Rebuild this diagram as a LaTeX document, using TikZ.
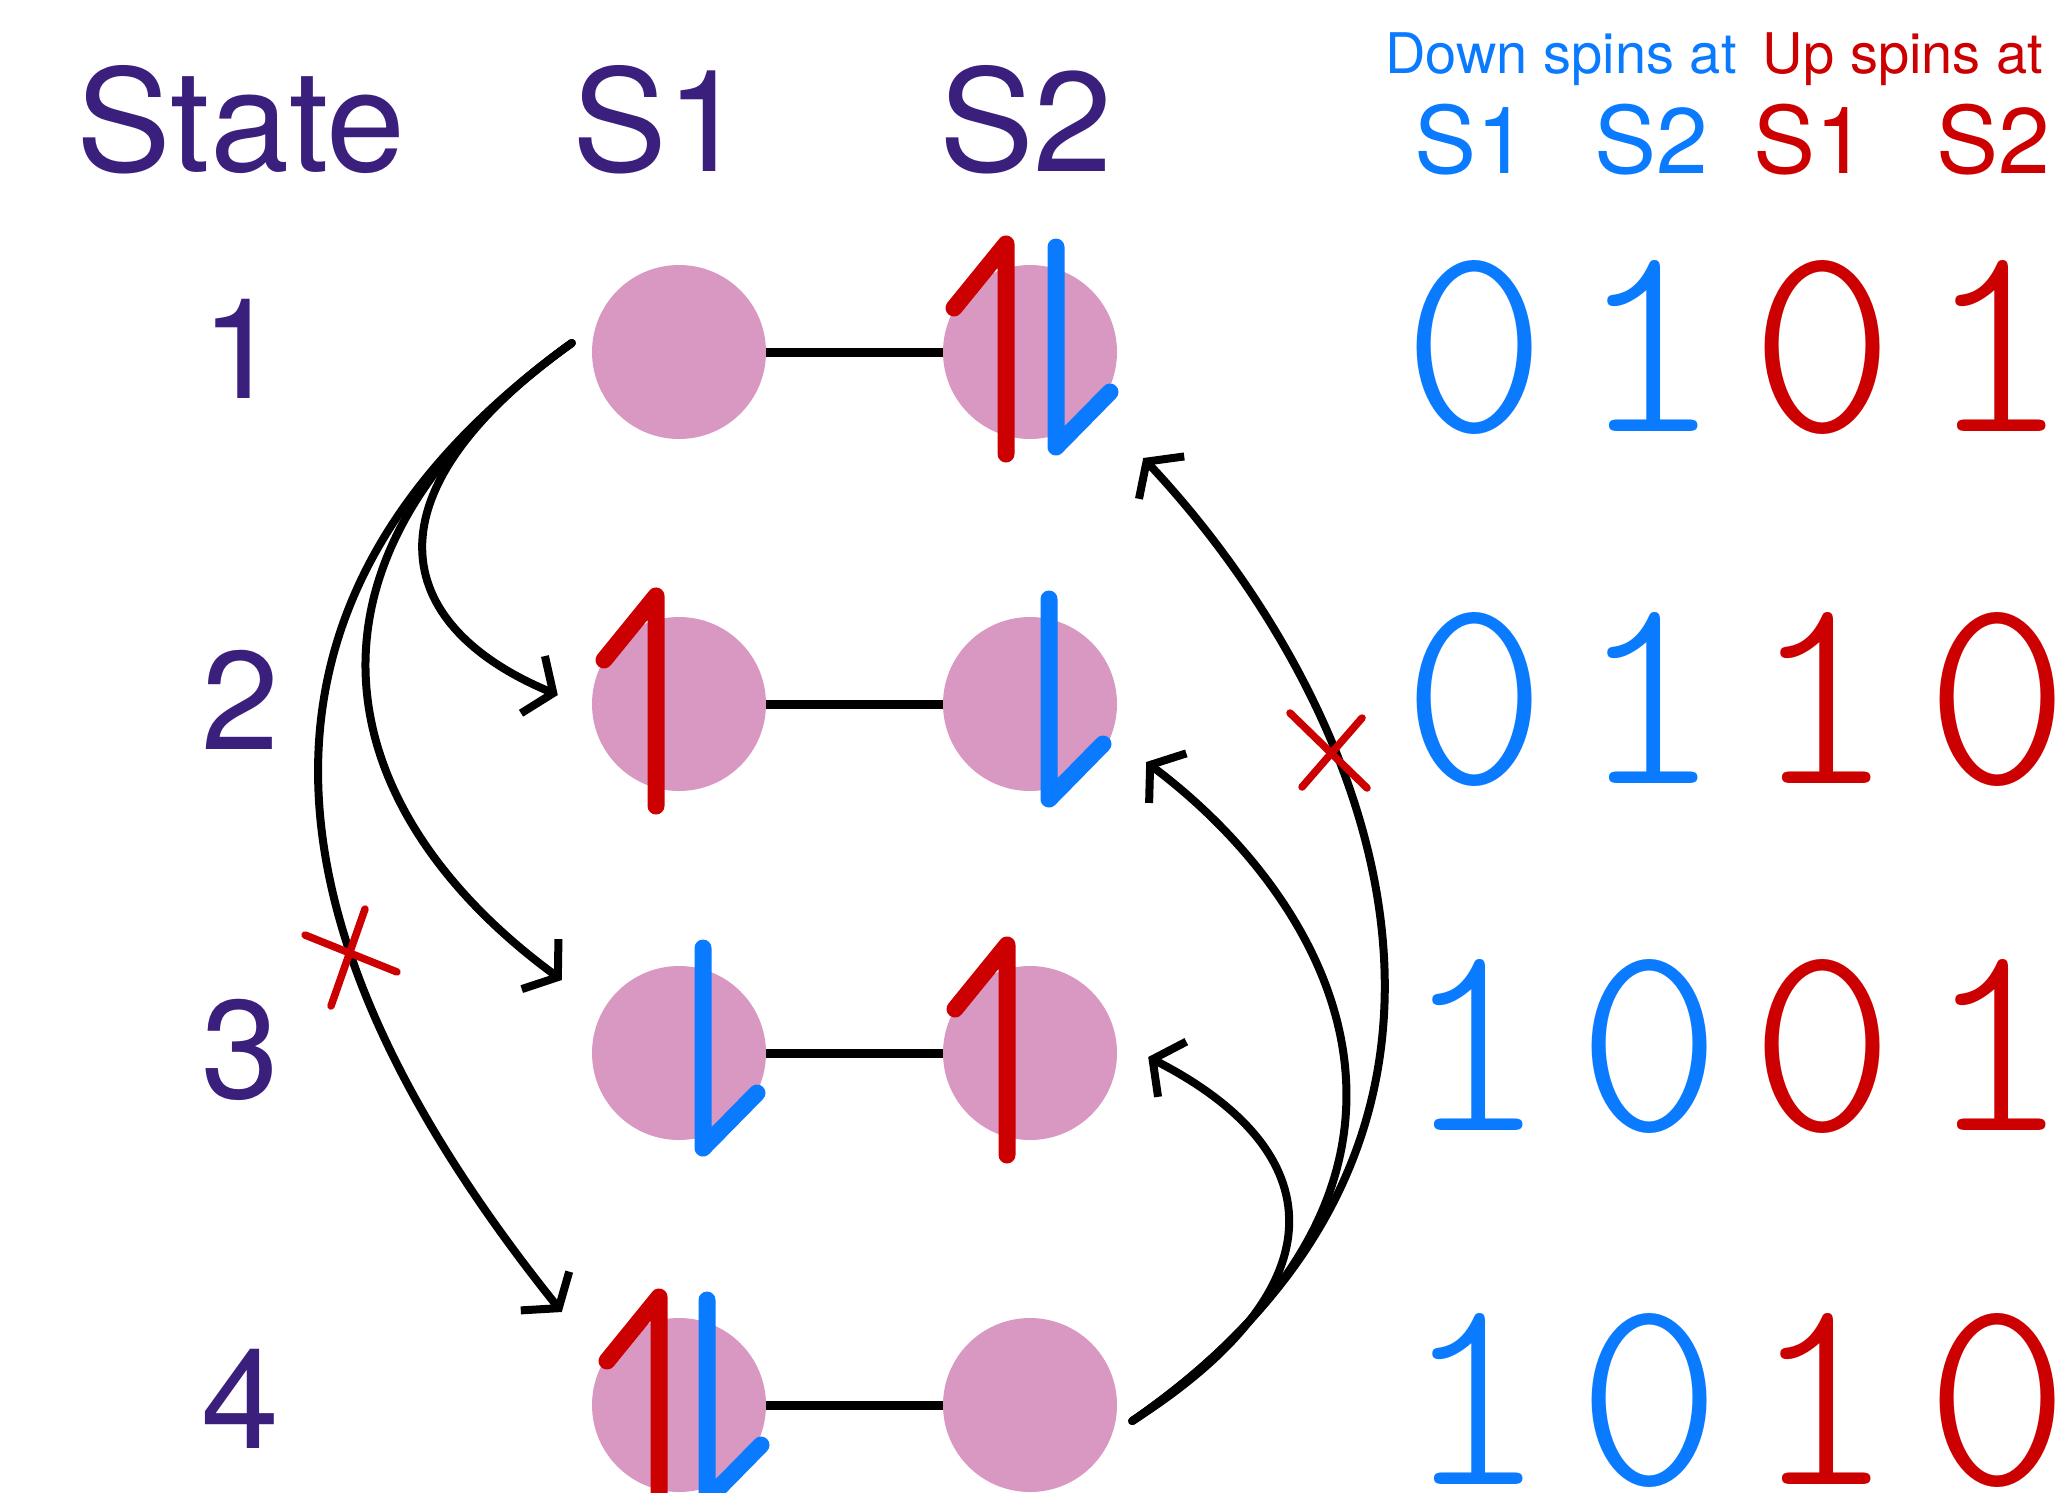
\documentclass[tikz,border=0pt]{standalone}
\usepackage{fontspec}
\setmainfont{TeX Gyre Heros}
\usetikzlibrary{arrows.meta,calc}
\definecolor{purp}{RGB}{58,31,125}
\definecolor{sblue}{RGB}{10,122,255}
\definecolor{sred}{RGB}{204,0,0}
\definecolor{pinkc}{RGB}{216,152,194}
\newcommand\upspin[2]{\draw[upsty] ($(#1)+(#2,102)$) -- ($(#1)+(#2,-108)$) -- ($(#1)+(#2-52,-44)$);}
\newcommand\downspin[2]{\draw[dnsty] ($(#1)+(#2,-105)$) -- ($(#1)+(#2,95)$) -- ($(#1)+(#2+54,40)$);}
\begin{document}
\begin{tikzpicture}[x=1pt,y=-1pt,
  site/.style={circle,fill=pinkc,minimum size=174pt,inner sep=0pt},
  bond/.style={line width=9pt},
  upsty/.style={sred,line width=17pt,line cap=round,line join=round},
  dnsty/.style={sblue,line width=17pt,line cap=round,line join=round},
  hop/.style={line width=8pt,line cap=round,-{Straight Barb[length=22pt,width=62pt]}},
  xmark/.style={sred,line width=7.5pt,line cap=round},
  head/.style={purp,font={\fontsize{142}{142}\selectfont},inner sep=0pt,anchor=base},
  num/.style={purp,font={\fontsize{140}{140}\selectfont},inner sep=0pt,anchor=base},
  smallh/.style={font={\fontsize{56}{56}\selectfont},inner sep=0pt,anchor=base},
  colh/.style={font={\fontsize{93}{93}\selectfont},inner sep=0pt,anchor=base},
  bit/.style={font={\fontseries{l}\ttfamily\fontsize{275}{275}\selectfont},inner sep=0pt,anchor=base}]
\useasboundingbox (0,0) rectangle (2060,1492);
% headers
\node[head] (tState) at (241,171) {State};
\node[head] (tS1) at (659,171) {S1};
\node[head] (tS2) at (1026,171) {S2};
\node[num] (n1) at (240,398) {1};
\node[num] (n2) at (240,749) {2};
\node[num] (n3) at (240,1098) {3};
\node[num] (n4) at (240,1448) {4};
\node[smallh,sblue] (hd) at (1561,73) {Down spins at};
\node[smallh,sred] (hu) at (1903,73) {Up spins at};
\node[colh,sblue] (hd1) at (1471,173) {S1};
\node[colh,sblue] (hd2) at (1651,173) {S2};
\node[colh,sred] (hu1) at (1810,173) {S1};
\node[colh,sred] (hu2) at (1993,173) {S2};
% occupation numbers
\node[bit,sblue] (b11) at (1475,431) {0};
\node[bit,sblue] (b12) at (1650,431) {1};
\node[bit,sred]  (b13) at (1823,431) {0};
\node[bit,sred]  (b14) at (1998,431) {1};
\node[bit,sblue] (b21) at (1475,783) {0};
\node[bit,sblue] (b22) at (1650,783) {1};
\node[bit,sred]  (b23) at (1823,783) {1};
\node[bit,sred]  (b24) at (1998,783) {0};
\node[bit,sblue] (b31) at (1475,1130) {1};
\node[bit,sblue] (b32) at (1650,1130) {0};
\node[bit,sred]  (b33) at (1823,1130) {0};
\node[bit,sred]  (b34) at (1998,1130) {1};
\node[bit,sblue] (b41) at (1475,1484) {1};
\node[bit,sblue] (b42) at (1650,1484) {0};
\node[bit,sred]  (b43) at (1823,1484) {1};
\node[bit,sred]  (b44) at (1998,1484) {0};
\begin{scope}
\clip (0,0) rectangle (2060,1492);
% sites
\node[site] (c11) at (679,352) {};
\node[site] (c12) at (1030,352) {};
\node[site] (c21) at (679,704) {};
\node[site] (c22) at (1030,704) {};
\node[site] (c31) at (679,1053) {};
\node[site] (c32) at (1030,1053) {};
\node[site] (c41) at (679,1405) {};
\node[site] (c42) at (1030,1405) {};
\draw[bond] (c11) -- (c12);
\draw[bond] (c21) -- (c22);
\draw[bond] (c31) -- (c32);
\draw[bond] (c41) -- (c42);
% spins
\upspin{c12}{-24}
\downspin{c12}{26}
\upspin{c21}{-23}
\downspin{c22}{19}
\downspin{c31}{24}
\upspin{c32}{-23}
\upspin{c41}{-20}
\downspin{c41}{28}
% hopping arrows, left
\coordinate (ls) at ([shift={(-20,-9)}]c11.west);
\draw[hop] (ls) .. controls (362,493) and (390,625) .. ([shift={(-34,-9)}]c21.west);
\draw[hop] (ls) .. controls (270,560) and (330,810) .. ([shift={(-30,-73)}]c31.west);
\draw[hop] (ls) .. controls (160,640) and (320,1010) .. ([shift={(-30,-93)}]c41.west);
% hopping arrows, right
\coordinate (rs) at ([shift={(15,16)}]c42.east);
\draw[hop] (rs) .. controls (1345,1285) and (1330,1150) .. ([shift={(31,4)}]c32.east);
\draw[hop] (rs) .. controls (1490,1175) and (1330,900) .. ([shift={(29,58)}]c22.east);
\draw[hop] (rs) .. controls (1552,1131) and (1370,700) .. ([shift={(26,106)}]c12.east);
% forbidden marks
\draw[xmark] (305,935) -- (397,972);
\draw[xmark] (365,909) -- (331,1006);
\draw[xmark] (1290,713) -- (1367,788);
\draw[xmark] (1362,718) -- (1302,787);
\end{scope}
\end{tikzpicture}
\end{document}
